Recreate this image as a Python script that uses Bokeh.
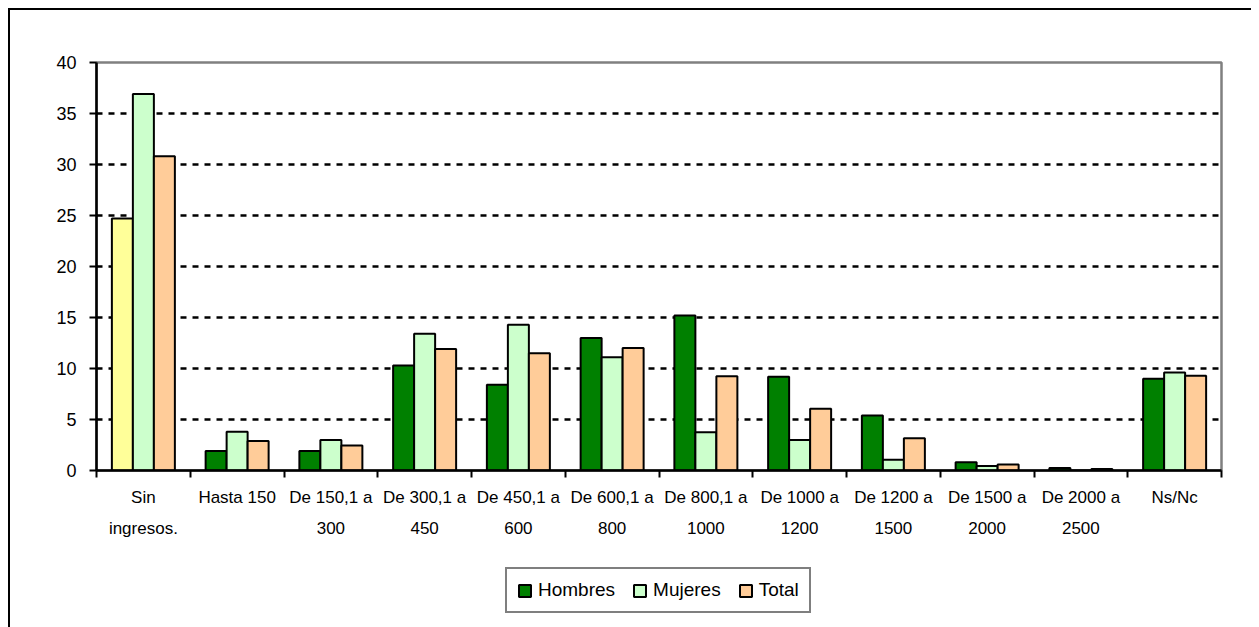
from bokeh.plotting import figure
from bokeh.models import Range1d, FixedTicker, Legend, LegendItem, Column
from bokeh.embed import file_html
from bokeh.resources import INLINE

categories = ["Sin\ningresos.", "Hasta 150", "De 150,1 a\n300", "De 300,1 a\n450",
              "De 450,1 a\n600", "De 600,1 a\n800", "De 800,1 a\n1000", "De 1000 a\n1200",
              "De 1200 a\n1500", "De 1500 a\n2000", "De 2000 a\n2500", "Ns/Nc"]
hombres = [24.7, 1.9, 1.9, 10.3, 8.4, 13.0, 15.2, 9.2, 5.4, 0.8, 0.25, 9.0]
mujeres = [36.9, 3.8, 3.0, 13.4, 14.3, 11.1, 3.75, 3.0, 1.05, 0.45, 0.0, 9.6]
total = [30.8, 2.9, 2.45, 11.9, 11.5, 12.0, 9.25, 6.05, 3.15, 0.6, 0.15, 9.3]
series_names = ["Hombres", "Mujeres", "Total"]
y_ticks = [0, 5, 10, 15, 20, 25, 30, 35, 40]

FONT = "Liberation Sans, Arial, sans-serif"
COLORS = ["#008000", "#CCFFCC", "#FFCC99"]
SIN_COLOR = "#FFFF99"
BW = 0.224
n = len(categories)
centers = [i + 0.5 for i in range(n)]

p = figure(frame_width=1125, frame_height=408, output_backend="svg", toolbar_location=None,
           x_range=Range1d(0, n), y_range=Range1d(0, 40),
           min_border_left=86, min_border_right=30, min_border_top=52, min_border_bottom=90,
           background_fill_color="white", border_fill_color="white")

p.outline_line_color = "#808080"
p.outline_line_width = 2.5

# grid
p.xgrid.visible = False
p.ygrid.ticker = FixedTicker(ticks=y_ticks[1:-1])
p.ygrid.grid_line_color = "black"
p.ygrid.grid_line_width = 2.5
p.ygrid.grid_line_dash = "6 6"

# y axis
p.yaxis.ticker = FixedTicker(ticks=y_ticks)
p.yaxis.axis_line_color = "black"
p.yaxis.axis_line_width = 2.5
p.yaxis.major_tick_line_color = "black"
p.yaxis.major_tick_line_width = 2
p.yaxis.major_tick_in = 0
p.yaxis.major_tick_out = 7
p.yaxis.minor_tick_line_color = None
p.yaxis.major_label_standoff = 13
p.yaxis.major_label_text_font = FONT
p.yaxis.major_label_text_font_size = "18px"
p.yaxis.major_label_text_color = "black"

# x axis: ticks at category boundaries (minor), labels at centers (major)
p.xaxis.ticker = FixedTicker(ticks=centers, minor_ticks=list(range(n + 1)))
p.xaxis.major_label_overrides = {c: lab for c, lab in zip(centers, categories)}
p.xaxis.axis_line_color = "black"
p.xaxis.axis_line_width = 2.5
p.xaxis.major_tick_line_color = None
p.xaxis.major_tick_in = 0
p.xaxis.major_tick_out = 0
p.xaxis.minor_tick_line_color = "black"
p.xaxis.minor_tick_line_width = 2
p.xaxis.minor_tick_in = 0
p.xaxis.minor_tick_out = 7
p.xaxis.major_label_standoff = 10
p.xaxis.major_label_text_font = FONT
p.xaxis.major_label_text_font_size = "17px"
p.xaxis.major_label_text_color = "black"
p.xaxis.major_label_text_line_height = 1.65

# bars
p.vbar(x=[centers[0] - BW], top=[hombres[0]], width=BW, bottom=0,
       fill_color=SIN_COLOR, line_color="black", line_width=2)
p.vbar(x=[c - BW for c in centers[1:]], top=hombres[1:], width=BW, bottom=0,
       fill_color=COLORS[0], line_color="black", line_width=2)
p.vbar(x=centers, top=mujeres, width=BW, bottom=0,
       fill_color=COLORS[1], line_color="black", line_width=2)
p.vbar(x=[c + BW for c in centers], top=total, width=BW, bottom=0,
       fill_color=COLORS[2], line_color="black", line_width=2)

# legend strip (separate small figure under the chart)
lg = figure(width=1241, height=67, output_backend="svg", toolbar_location=None,
            x_range=Range1d(0, 1), y_range=Range1d(0, 1),
            min_border=0, x_axis_location=None, y_axis_location=None,
            background_fill_color="white", border_fill_color="white")
lg.outline_line_color = None
lg.xgrid.visible = False
lg.ygrid.visible = False
items = []
for name, col in zip(series_names, COLORS):
    # legend-only swatch renderers: NaN position so nothing is drawn in the strip
    r = lg.vbar(x=[float("nan")], top=[float("nan")], bottom=[float("nan")], width=0.1,
                fill_color=col, line_color="black", line_width=2)
    items.append(LegendItem(label=name, renderers=[r]))
legend = Legend(items=items, orientation="horizontal", location=(409, 14))
legend.label_text_font = FONT
legend.label_text_font_size = "19px"
legend.label_text_color = "black"
legend.glyph_width = 15
legend.glyph_height = 15
legend.label_standoff = 6
legend.spacing = 17
legend.padding = 10
legend.margin = 0
legend.border_line_color = "black"
legend.border_line_width = 2
legend.background_fill_color = "white"
legend.background_fill_alpha = 1
lg.add_layout(legend, "center")

layout = Column(children=[p, lg], spacing=0,
                styles={"border-top": "2px solid black", "border-left": "2px solid black",
                        "margin-top": "8px", "margin-left": "8px"})

open("out.html", "w").write(file_html(layout, INLINE))
